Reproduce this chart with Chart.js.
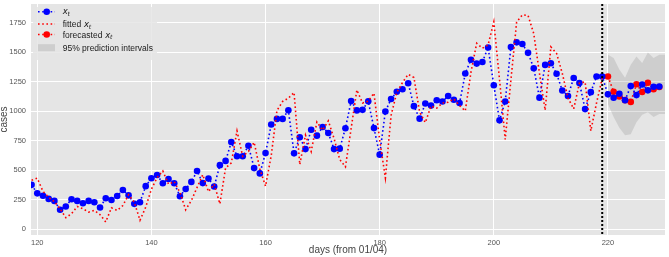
<!DOCTYPE html>
<html><head><meta charset="utf-8">
<script src="https://cdn.jsdelivr.net/npm/chart.js@4.4.0/dist/chart.umd.min.js"></script>
<style>html,body{margin:0;padding:0;background:#fff;}#wrap{width:669px;height:257px;}</style>
</head><body><div id="wrap"><canvas id="c" width="669" height="257"></canvas></div>
<script>
// ---- data ----
const startDay = 119;            // first observed day shown
const xtValues = [
  375,303,283,256,239,164,192,253,239,219,
  239,228,183,261,247,281,331,286,214,228,
  364,431,458,389,425,389,278,340,400,492,
  390,428,361,542,578,738,617,617,707,517,
  472,644,886,934,934,1008,642,778,678,842,
  792,865,815,678,682,855,1085,1006,1011,1083,
  856,631,997,1103,1164,1186,1236,1042,936,1064,
  1047,1092,1081,1128,1097,1069,1319,1436,1403,1417,
  1539,1219,922,1081,1544,1583,1569,1494,1364,1114,
  1392,1406,1317,1175,1128,1281,1239,1017,1161,1294,
  1294,1142,1113,1147,1092,1212,1136,1226,1176,1207,
  1209
];
const fittedValues = [
  414,431,320,269,233,172,97,131,192,172,
  144,158,122,61,181,158,200,292,228,75,
  186,339,436,492,381,403,311,164,242,353,
  461,318,381,214,519,561,832,617,658,736,
  510,364,624,1005,1082,1110,1158,547,797,658,
  908,839,917,769,590,528,853,1180,1068,1085,
  1152,755,434,964,1158,1242,1312,1285,992,903,
  1042,1025,1069,1075,1103,1047,1002,1330,1575,1533,
  1561,1756,1270,760,1265,1755,1816,1811,1657,1321,
  1008,1545,1489,1321,1111,1019,1237,1248,832,1069,
  1279
];
const forecastStartDay = 220;
const forecastValues = [1294,1164,1125,1093,1078,1228,1162,1241,1185,1205];
const piUpper = [1478,1450,1353,1283,1394,1464,1408,1497,1450,1478,1478];
const piLower = [1060,950,860,795,805,905,970,990,950,975,975];
const cutoffDay = 219;
const xTicks = [120,140,160,180,200,220];
const yTicks = [0,250,500,750,1000,1250,1500,1750];
const legendLabels = ['', 'fitted ', 'forecasted ', '95% prediction intervals'];

// ---- build ----
const toPts = (arr, d0) => arr.map((v, i) => ({x: d0 + i, y: v}));
const FAM = "'Liberation Sans', Arial, Helvetica, sans-serif";
const DOT = [1.6, 2.6];

const bgPlugin = {
  id: 'bg',
  beforeDraw(chart) {
    const {ctx, chartArea: a} = chart;
    ctx.save();
    ctx.fillStyle = '#E5E5E5';
    ctx.fillRect(a.left, a.top, a.right - a.left, a.bottom - a.top);
    ctx.restore();
  }
};

const cutoffPlugin = {
  id: 'cutoff',
  afterDatasetsDraw(chart) {
    const {ctx, chartArea: a, scales} = chart;
    const x = scales.x.getPixelForValue(cutoffDay);
    ctx.save();
    ctx.strokeStyle = '#000';
    ctx.lineWidth = 2;
    ctx.setLineDash([2, 2]);
    ctx.beginPath();
    ctx.moveTo(x, a.top);
    ctx.lineTo(x, a.bottom);
    ctx.stroke();
    ctx.restore();
  }
};

function drawMath(ctx, x, base, size, color) {
  ctx.fillStyle = color;
  ctx.font = 'italic ' + size + "px 'DejaVu Sans'";
  ctx.fillText('x', x, base);
  const w = ctx.measureText('x').width;
  ctx.font = 'italic ' + (size * 0.7) + "px 'DejaVu Sans'";
  ctx.fillText('t', x + w - 0.3, base + size * 0.22);
}

const legendPlugin = {
  id: 'customLegend',
  afterDraw(chart) {
    const {ctx, chartArea: a} = chart;
    const L = a.left;
    ctx.save();
    ctx.fillStyle = 'rgba(229,229,229,0.85)';
    ctx.fillRect(L + 2, a.top + 3, 124, 53);
    const hx0 = L + 7, hx1 = L + 24, hxm = L + 15.7, tx = L + 31.7;
    const rowsY = [11.7, 24, 34.5, 47.7];
    const fs = 8.5;
    const tc = '#1a1a1a';
    // row 1: x_t
    ctx.lineWidth = 1.6; ctx.setLineDash(DOT);
    ctx.strokeStyle = '#0000FF';
    ctx.beginPath(); ctx.moveTo(hx0, rowsY[0]); ctx.lineTo(hx1, rowsY[0]); ctx.stroke();
    ctx.setLineDash([]);
    ctx.fillStyle = '#0000FF';
    ctx.beginPath(); ctx.arc(hxm, rowsY[0], 3.3, 0, Math.PI * 2); ctx.fill();
    drawMath(ctx, tx, rowsY[0] + 2.6, fs, tc);
    // row 2: fitted
    ctx.setLineDash(DOT); ctx.strokeStyle = '#FF0000';
    ctx.beginPath(); ctx.moveTo(hx0, rowsY[1]); ctx.lineTo(hx1, rowsY[1]); ctx.stroke();
    ctx.setLineDash([]);
    ctx.font = fs + 'px ' + FAM; ctx.fillStyle = tc;
    ctx.fillText(legendLabels[1], tx, rowsY[1] + 3);
    let w = ctx.measureText(legendLabels[1]).width;
    drawMath(ctx, tx + w + 0.5, rowsY[1] + 3, fs, tc);
    // row 3: forecasted
    ctx.setLineDash(DOT); ctx.strokeStyle = '#FF0000';
    ctx.beginPath(); ctx.moveTo(hx0, rowsY[2]); ctx.lineTo(hx1, rowsY[2]); ctx.stroke();
    ctx.setLineDash([]);
    ctx.fillStyle = '#FF0000';
    ctx.beginPath(); ctx.arc(hxm, rowsY[2], 3.3, 0, Math.PI * 2); ctx.fill();
    ctx.font = fs + 'px ' + FAM; ctx.fillStyle = tc;
    ctx.fillText(legendLabels[2], tx, rowsY[2] + 3);
    w = ctx.measureText(legendLabels[2]).width;
    drawMath(ctx, tx + w + 0.5, rowsY[2] + 3, fs, tc);
    // row 4: PI
    ctx.fillStyle = 'rgba(128,128,128,0.22)';
    ctx.fillRect(hx0, rowsY[3] - 3.5, hx1 - hx0, 7);
    ctx.font = fs + 'px ' + FAM; ctx.fillStyle = tc;
    ctx.fillText(legendLabels[3], tx, rowsY[3] + 3);
    ctx.restore();
  }
};

new Chart(document.getElementById('c'), {
  type: 'line',
  data: {
    datasets: [
      { label: 'fitted', data: toPts(fittedValues, startDay), order: 0,
        borderColor: '#FF0000', borderWidth: 1.6, borderDash: DOT, pointRadius: 0, fill: false, tension: 0 },
      { label: 'x_t', data: toPts(xtValues, startDay), order: 1,
        borderColor: '#0000FF', borderWidth: 1.6, borderDash: DOT,
        pointRadius: 3.3, pointBackgroundColor: '#0000FF', pointBorderWidth: 0, fill: false, tension: 0 },
      { label: 'forecasted', data: toPts(forecastValues, forecastStartDay), order: 2,
        borderColor: '#FF0000', borderWidth: 1.6, borderDash: DOT,
        pointRadius: 3.3, pointBackgroundColor: '#FF0000', pointBorderWidth: 0, fill: false, tension: 0 },
      { label: 'PI upper', data: toPts(piUpper, forecastStartDay), order: 3,
        borderWidth: 0, pointRadius: 0, backgroundColor: 'rgba(128,128,128,0.22)', fill: '+1', tension: 0 },
      { label: 'PI lower', data: toPts(piLower, forecastStartDay), order: 4,
        borderWidth: 0, pointRadius: 0, fill: false, tension: 0 }
    ]
  },
  options: {
    responsive: false, animation: false, devicePixelRatio: 1,
    layout: { padding: 0 },
    plugins: { legend: { display: false }, tooltip: { enabled: false }, filler: { drawTime: 'beforeDatasetsDraw' } },
    scales: {
      x: {
        type: 'linear', min: 118.9, max: 230,
        afterBuildTicks: s => { s.ticks = xTicks.map(v => ({value: v})); },
        afterFit: s => { s.height = 22; s.paddingLeft = 0; s.paddingRight = 0; },
        grid: { color: '#FFFFFF', lineWidth: 1, drawTicks: false },
        border: { display: false },
        ticks: { font: { family: FAM, size: 7.5 }, color: '#555555', padding: 3, maxRotation: 0, autoSkip: false,
                 callback: v => String(v) },
        title: { display: true, text: 'days (from 01/04)', font: { family: FAM, size: 10 }, color: '#444444', padding: { top: 0, bottom: 0.6 } }
      },
      y: {
        type: 'linear', min: -50, max: 1908,
        afterBuildTicks: s => { s.ticks = yTicks.map(v => ({value: v})); },
        afterFit: s => { s.width = 31; s.paddingTop = 0; s.paddingBottom = 0; },
        grid: { color: '#FFFFFF', lineWidth: 1, drawTicks: false },
        border: { display: false },
        ticks: { font: { family: FAM, size: 7.5 }, color: '#555555', padding: 5, autoSkip: false,
                 callback: v => String(v) },
        title: { display: true, text: 'cases', font: { family: FAM, size: 10 }, color: '#444444', padding: { top: -1.5, bottom: 0 } }
      }
    }
  },
  plugins: [bgPlugin, cutoffPlugin, legendPlugin]
});
</script>
</body></html>
